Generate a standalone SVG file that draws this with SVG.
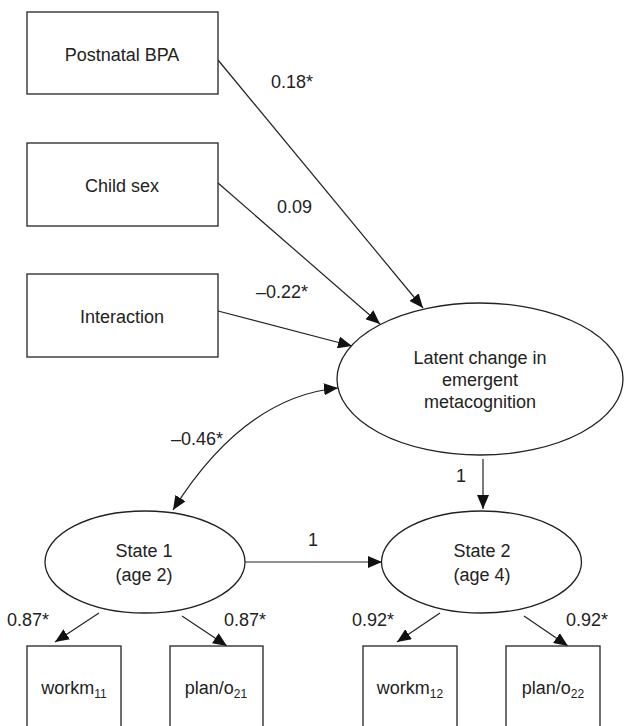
<svg xmlns="http://www.w3.org/2000/svg" width="625" height="726" viewBox="0 0 625 726">
<style>
.box{fill:#fff;stroke:#333;stroke-width:1.4}
.ell{fill:#fff;stroke:#222;stroke-width:1.3}
.t{font-family:"Liberation Sans",Arial,sans-serif;font-size:18px;fill:#222;text-anchor:middle}
.lb{font-family:"Liberation Sans",Arial,sans-serif;font-size:18px;fill:#222}
.c{fill:none;stroke:#222;stroke-width:1.2}
</style>
<defs>
<marker id="ah" markerUnits="userSpaceOnUse" markerWidth="14" markerHeight="12" viewBox="0 0 14 12" refX="14" refY="6" orient="auto-start-reverse">
<path d="M0,0 L14,6 L0,12 z" fill="#111"/>
</marker>
</defs>
<rect width="625" height="726" fill="#fff"/>
<g id="connectors">
<line class="c" x1="218" y1="60" x2="423" y2="308" marker-end="url(#ah)"/>
<line class="c" x1="218" y1="183" x2="380" y2="324" marker-end="url(#ah)"/>
<line class="c" x1="218" y1="311" x2="352" y2="346" marker-end="url(#ah)"/>
<path class="c" d="M173,510 Q244,397 338,388" marker-start="url(#ah)" marker-end="url(#ah)"/>
<line class="c" x1="245" y1="562" x2="382" y2="562" marker-end="url(#ah)"/>
<line class="c" x1="483" y1="459" x2="483" y2="509" marker-end="url(#ah)"/>
<line class="c" x1="99" y1="613" x2="55" y2="642" marker-end="url(#ah)"/>
<line class="c" x1="182" y1="616" x2="227" y2="646" marker-end="url(#ah)"/>
<line class="c" x1="440" y1="613" x2="397" y2="642" marker-end="url(#ah)"/>
<line class="c" x1="524" y1="616" x2="568" y2="646" marker-end="url(#ah)"/>
<text class="lb" x="271" y="88">0.18*</text>
<text class="lb" x="277" y="213">0.09</text>
<text class="lb" x="256" y="298">–0.22*</text>
<text class="lb" x="171" y="445">–0.46*</text>
<text class="lb" x="308" y="546">1</text>
<text class="lb" x="456" y="482">1</text>
<text class="lb" x="7" y="626">0.87*</text>
<text class="lb" x="224" y="626">0.87*</text>
<text class="lb" x="352" y="626">0.92*</text>
<text class="lb" x="566" y="626">0.92*</text>
</g>
<g id="postnatal">
<rect class="box" x="27" y="12" width="191" height="82"/>
<text class="t" x="122" y="61">Postnatal BPA</text>
</g>
<g id="childsex">
<rect class="box" x="27" y="143" width="191" height="83"/>
<text class="t" x="122" y="192">Child sex</text>
</g>
<g id="interaction">
<rect class="box" x="27" y="274" width="191" height="83"/>
<text class="t" x="122" y="323">Interaction</text>
</g>
<g id="latent">
<ellipse class="ell" cx="480" cy="379" rx="143" ry="76"/>
<text class="t" x="480" y="364">Latent change in</text>
<text class="t" x="480" y="386">emergent</text>
<text class="t" x="480" y="408">metacognition</text>
</g>
<g id="state1">
<ellipse class="ell" cx="145" cy="562" rx="100" ry="51"/>
<text class="t" x="144" y="557">State 1</text>
<text class="t" x="144" y="581">(age 2)</text>
</g>
<g id="state2">
<ellipse class="ell" cx="481.5" cy="562" rx="100" ry="51"/>
<text class="t" x="482" y="557">State 2</text>
<text class="t" x="482" y="581">(age 4)</text>
</g>
<g id="workm11">
<rect class="box" x="27" y="646" width="94" height="100"/>
<text class="t" x="74" y="694">workm<tspan font-size="12" dy="4">11</tspan></text>
</g>
<g id="plan21">
<rect class="box" x="170" y="646" width="93" height="100"/>
<text class="t" x="216" y="694">plan/o<tspan font-size="12" dy="4">21</tspan></text>
</g>
<g id="workm12">
<rect class="box" x="363" y="646" width="94" height="100"/>
<text class="t" x="410" y="694">workm<tspan font-size="12" dy="4">12</tspan></text>
</g>
<g id="plan22">
<rect class="box" x="506" y="646" width="94" height="100"/>
<text class="t" x="553" y="694">plan/o<tspan font-size="12" dy="4">22</tspan></text>
</g>
</svg>
